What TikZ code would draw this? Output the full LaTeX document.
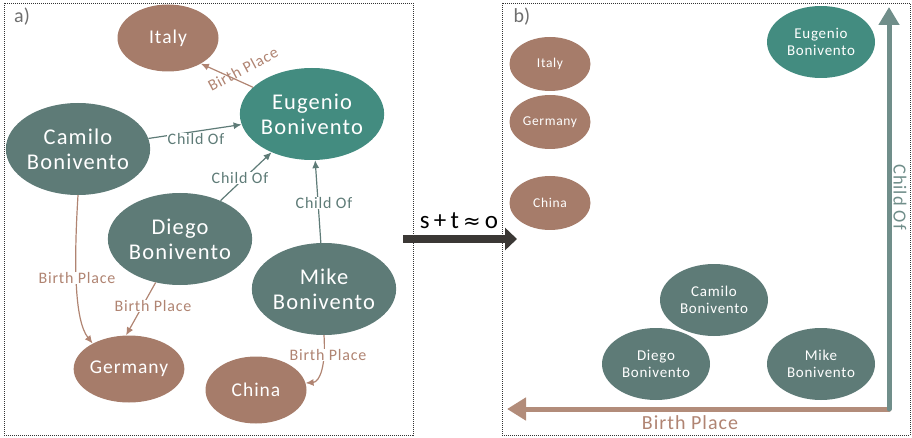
\documentclass[tikz,border=0pt]{standalone}
\usepackage{fontspec}
\setmainfont{Carlito}
\newfontfamily\djv{DejaVu Sans}
\newfontfamily\wide{Carlito}[LetterSpace=5]
\usetikzlibrary{shapes.geometric,arrows.meta}
\definecolor{brn}{RGB}{166,124,106}
\definecolor{brnt}{RGB}{176,132,114}
\definecolor{teal1}{RGB}{67,140,128}
\definecolor{gray1}{RGB}{94,123,119}
\definecolor{axg}{RGB}{112,142,138}
\definecolor{axb}{RGB}{178,140,122}
\definecolor{dark}{RGB}{59,56,53}
\definecolor{lbl}{RGB}{110,110,110}
\begin{document}
\begin{tikzpicture}[x=1pt,y=-1pt,
  frame/.style={draw=black!80, line width=0.9pt, dash pattern=on 1pt off 1pt},
  person/.style={ellipse, inner sep=0pt, text=white, align=center, fill=gray1,
    minimum width=139pt, minimum height=92pt, font=\wide\fontsize{22.5}{25}\selectfont},
  place/.style={ellipse, inner sep=0pt, text=white, align=center, fill=brn,
    minimum width=101pt, minimum height=67pt, font=\wide\fontsize{19.5}{24}\selectfont},
  sperson/.style={ellipse, inner sep=0pt, text=white, align=center, fill=gray1,
    minimum width=108pt, minimum height=72pt, font=\wide\fontsize{15}{17.5}\selectfont},
  splace/.style={ellipse, inner sep=0pt, text=white, align=center, fill=brn,
    minimum width=81pt, minimum height=54pt, font=\wide\fontsize{13.5}{17}\selectfont},
  childedge/.style={draw=gray1, line width=1.2pt, -{Latex[length=8pt,width=7pt]}},
  birthedge/.style={draw=brnt, line width=1.2pt, -{Latex[length=8pt,width=7pt]}},
  childlbl/.style={fill=white, inner sep=0.5pt, text=gray1, font=\wide\fontsize{16}{18}\selectfont},
  birthlbl/.style={fill=white, inner sep=0.5pt, text=brnt, font=\wide\fontsize{16}{18}\selectfont},
  tag/.style={text=lbl, font=\fontsize{20}{24}\selectfont, inner sep=0pt}
]
\useasboundingbox (0,0) rectangle (912,438);
% frames
\draw[frame] (4,3) rectangle (413,435);
\draw[frame] (502,3) rectangle (910,435);
\node[tag] (ta) at (22,17) {a)};
\node[tag] (tb) at (522,17) {b)};

% panel a nodes
\node[place] (italy) at (168,38) {Italy};
\node[person, fill=teal1] (eug) at (312,114) {Eugenio\\Bonivento};
\node[person] (cam) at (78,149) {Camilo\\Bonivento};
\node[person] (die) at (180,239) {Diego\\Bonivento};
\node[person] (mik) at (324,289) {Mike\\Bonivento};
\node[place] (ger) at (129,369) {Germany};
\node[place] (chi) at (256,390) {China};

% panel a edges
\draw[birthedge] (eug) -- (italy.-38);
\draw[childedge] (cam) -- (eug);
\draw[childedge] (die) -- (eug);
\draw[childedge] (mik) -- (eug);
\draw[birthedge] (cam.south) .. controls (74,260) and (74,320) .. (ger.145);
\draw[birthedge] (die) -- (ger.95);
\draw[birthedge] (mik.south) .. controls (326,365) and (320,382) .. (chi.8);

% panel a labels
\node[birthlbl, fill=none, rotate=28] (l1) at (243,69) {Birth Place};
\node[childlbl] (l2) at (196,139) {Child Of};
\node[childlbl] (l3) at (240,178) {Child Of};
\node[childlbl] (l4) at (324,203) {Child Of};
\node[birthlbl] (l5) at (77,278) {Birth Place};
\node[birthlbl] (l6) at (153,306) {Birth Place};
\node[birthlbl] (l7) at (328,355) {Birth Place};

% middle arrow
\coordinate (m1) at (403,239);
\coordinate (m2) at (517,239);
\draw[dark, line width=7.5pt, -{Triangle[length=12pt,width=22pt]}] (m1) -- (m2);
\node[text=black, font=\fontsize{25}{28}\selectfont, inner sep=0pt] (stx) at (459,221) {s\,+\,t\,{\djv\fontsize{21}{25}\selectfont ≈}\,o};

% panel b nodes
\node[sperson, fill=teal1] (beug) at (821,42) {Eugenio\\Bonivento};
\node[splace] (bita) at (550,64) {Italy};
\node[splace] (bger) at (550,122) {Germany};
\node[splace] (bchi) at (550,203) {China};
\node[sperson] (bcam) at (714,300) {Camilo\\Bonivento};
\node[sperson] (bdie) at (656,364) {Diego\\Bonivento};
\node[sperson] (bmik) at (821,364) {Mike\\Bonivento};

% axes
\coordinate (o) at (889,409);
\coordinate (ytip) at (889,7);
\coordinate (xtip) at (507,409);
\draw[axb, line width=5pt, line cap=round, -{Triangle[length=19pt,width=22pt]}] (o) -- (xtip);
\draw[axg, line width=5pt, line cap=round, -{Triangle[length=18pt,width=20pt]}] (o) -- (ytip);
\node[text=brnt, font=\wide\fontsize{20}{22}\selectfont, inner sep=0pt] (xl) at (690,423) {Birth Place};
\node[text=axg, font=\wide\fontsize{18.5}{20}\selectfont, inner sep=0pt, rotate=-90] (yl) at (900,197) {Child Of};
\end{tikzpicture}
\end{document}
